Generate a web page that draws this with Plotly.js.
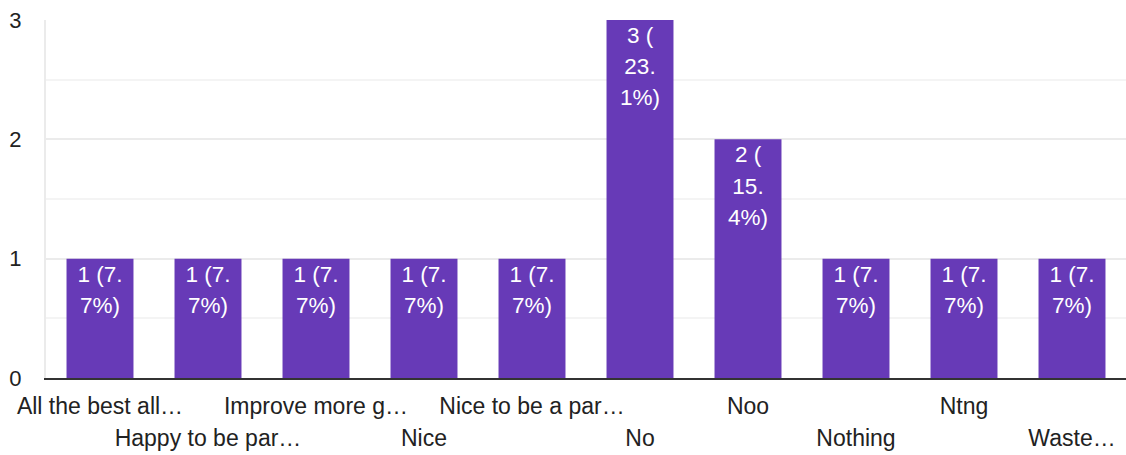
<!DOCTYPE html>
<html>
<head>
<meta charset="utf-8">
<script src="https://cdn.plot.ly/plotly-3.0.1.min.js"></script>
<style>html,body{margin:0;padding:0;background:#fff;}#chart{width:1126px;height:455px;}</style>
</head>
<body>
<div id="chart"></div>
<script>
const categories = ["All the best all…", "Happy to be par…", "Improve more g…", "Nice", "Nice to be a par…", "No", "Noo", "Nothing", "Ntng", "Waste…"];
const counts = [1, 1, 1, 1, 1, 3, 2, 1, 1, 1];
const barLabelLines = [
  ["1 (7.", "7%)"], ["1 (7.", "7%)"], ["1 (7.", "7%)"], ["1 (7.", "7%)"], ["1 (7.", "7%)"],
  ["3 (", "23.", "1%)"], ["2 (", "15.", "4%)"],
  ["1 (7.", "7%)"], ["1 (7.", "7%)"], ["1 (7.", "7%)"]
];
const yTicks = [0, 1, 2, 3];

const xIdx = categories.map((c, i) => i);
const span = (s, px) => "<span style='font-size:" + px + "px'>" + s + "</span>";
const tickText = categories.map((c, i) => (i % 2 === 1 ? "<br>" + span(c, 23) : span(c, 23)));
const barText = barLabelLines.map(lines => lines.map(l => span(l, 22.5)).join("<br>"));

const font = "Liberation Sans, Arial, sans-serif";

Plotly.newPlot("chart", [{
  type: "bar",
  x: xIdx,
  y: counts,
  text: barText,
  textposition: "inside",
  insidetextanchor: "end",
  constraintext: "none",
  textangle: 0,
  textfont: {family: font, size: 24, color: "#ffffff"},
  marker: {color: "#673ab7"},
  hoverinfo: "none"
}], {
  width: 1126,
  height: 455,
  margin: {l: 46, r: 0, t: 20, b: 77},
  paper_bgcolor: "#ffffff",
  plot_bgcolor: "#ffffff",
  bargap: 0.38,
  showlegend: false,
  font: {family: font, size: 22, color: "#222222"},
  xaxis: {
    range: [-0.5, 9.5],
    tickvals: xIdx,
    ticktext: tickText,
    tickangle: 0,
    showgrid: false,
    zeroline: false,
    showline: true,
    linecolor: "#333333",
    linewidth: 2,
    ticks: "outside",
    ticklen: 5,
    tickcolor: "rgba(0,0,0,0)",
    tickfont: {family: font, size: 24.5, color: "#222222"},
    fixedrange: true
  },
  yaxis: {
    range: [0, 3],
    tickvals: yTicks,
    ticktext: yTicks.map(String),
    showgrid: true,
    gridcolor: "#ebebeb",
    gridwidth: 2,
    minor: {dtick: 0.5, tick0: 0, showgrid: true, gridcolor: "#f4f4f4", gridwidth: 2, ticks: ""},
    zeroline: false,
    showline: true,
    linecolor: "#ebebeb",
    linewidth: 2,
    ticks: "outside",
    ticklen: 18,
    tickcolor: "rgba(0,0,0,0)",
    tickfont: {family: font, size: 22, color: "#222222"},
    fixedrange: true
  }
}, {staticPlot: true});
</script>
</body>
</html>
